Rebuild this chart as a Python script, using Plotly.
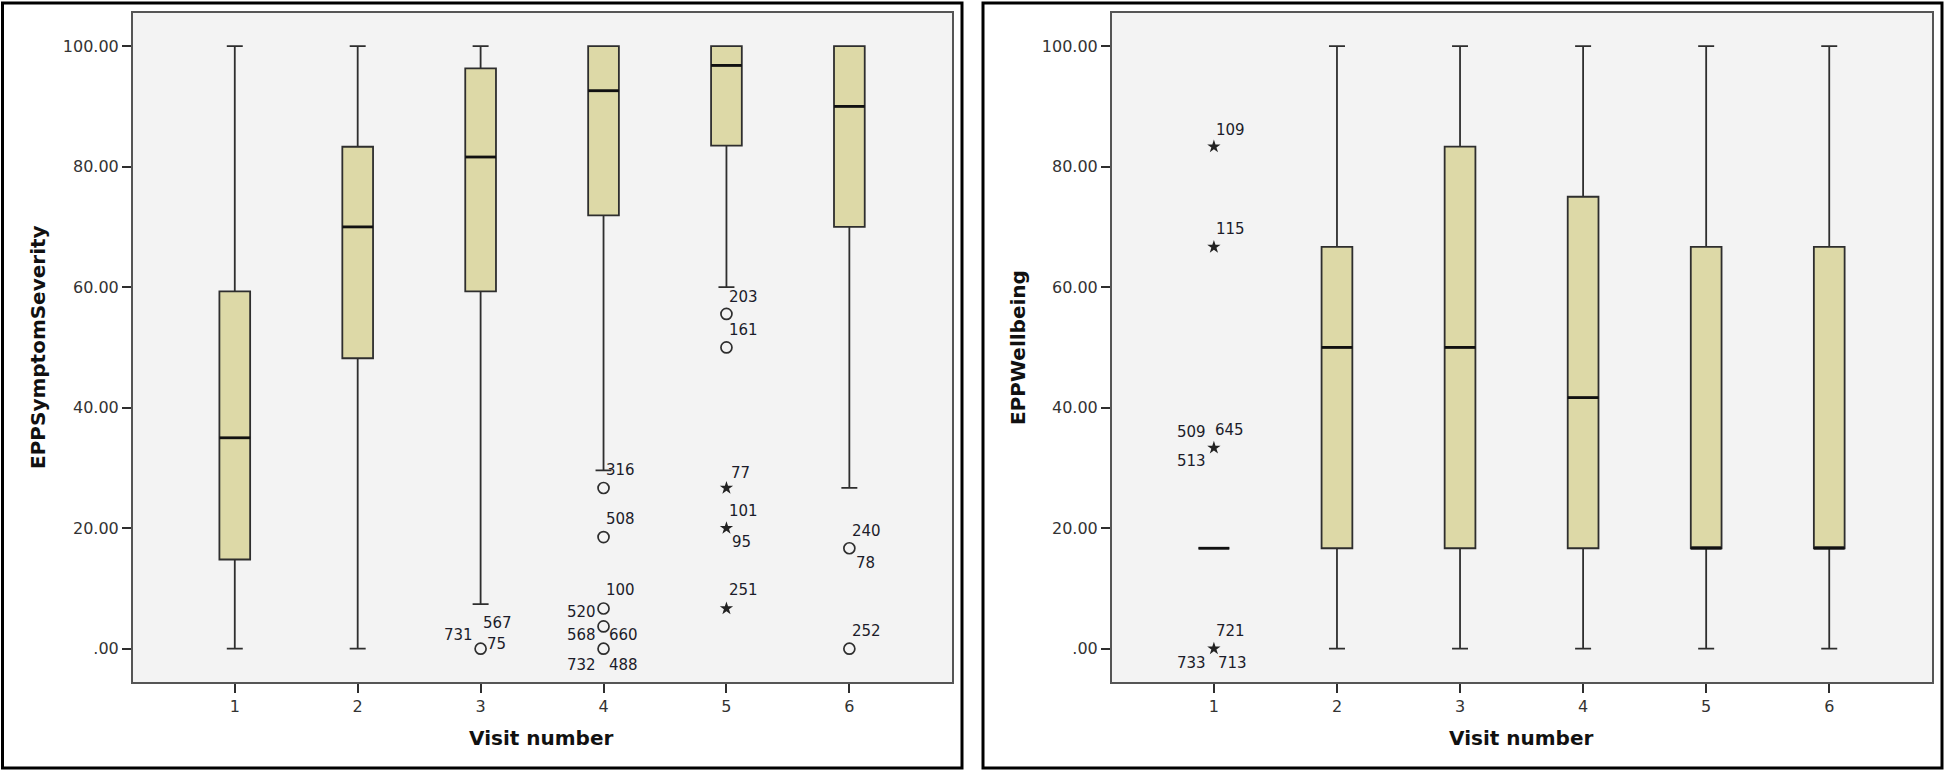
import plotly.graph_objects as go

# ---------------- data ----------------
visits = [1, 2, 3, 4, 5, 6]
tick_vals = [0, 20, 40, 60, 80, 100]
tick_text = [".00", "20.00", "40.00", "60.00", "80.00", "100.00"]

# EPPSymptomSeverity
sym_q1 = [14.8, 48.2, 59.3, 71.9, 83.5, 70.0]
sym_median = [35.0, 70.0, 81.6, 92.6, 96.8, 90.0]
sym_q3 = [59.3, 83.3, 96.3, 100.0, 100.0, 100.0]
sym_low = [0.0, 0.0, 7.4, 29.6, 60.0, 26.7]
sym_high = [100.0, 100.0, 100.0, 100.0, 100.0, 100.0]

sym_circle_x = [3, 4, 4, 4, 4, 4, 5, 5, 6, 6]
sym_circle_y = [0.0, 26.67, 18.52, 6.67, 3.70, 0.0, 55.56, 50.0, 16.67, 0.0]
sym_star_x = [5, 5, 5]
sym_star_y = [26.67, 20.0, 6.67]

sym_label_text = ["731", "567", "75", "316", "508", "100", "520", "568", "660", "732", "488",
                  "203", "161", "77", "101", "95", "251", "240", "78", "252"]
sym_label_x = [3, 3, 3, 4, 4, 4, 4, 4, 4, 4, 4, 5, 5, 5, 5, 5, 5, 6, 6, 6]
sym_label_y = [0.0, 0.0, 0.0, 26.67, 18.52, 6.67, 3.70, 0.0, 0.0, 0.0, 0.0,
               55.56, 50.0, 26.67, 20.0, 20.0, 6.67, 16.67, 16.67, 0.0]

# EPPWellbeing
wb_q1 = [16.67, 16.67, 16.67, 16.67, 16.67, 16.67]
wb_median = [16.67, 50.0, 50.0, 41.67, 16.67, 16.67]
wb_q3 = [16.67, 66.67, 83.33, 75.0, 66.67, 66.67]
wb_low = [16.67, 0.0, 0.0, 0.0, 0.0, 0.0]
wb_high = [16.67, 100.0, 100.0, 100.0, 100.0, 100.0]

wb_star_x = [1, 1, 1, 1]
wb_star_y = [83.33, 66.67, 33.33, 0.0]

wb_label_text = ["109", "115", "509", "645", "513", "721", "733", "713"]
wb_label_x = [1, 1, 1, 1, 1, 1, 1, 1]
wb_label_y = [83.33, 66.67, 33.33, 33.33, 33.33, 0.0, 0.0, 0.0]

# ---------------- style ----------------
W, H = 1946, 774
FONT = "DejaVu Sans"
BOX_W = 0.25
BOX_FILL = "#DDD9A7"
LINE_C = "#2e2e2e"

# label offsets in pixels (dx, dy up)
sym_label_off = [(-22, 14), (17, 26), (16, 5), (17, 18), (17, 18), (17, 18), (-22, 14),
                 (-22, 14), (20, 14), (-22, -16), (20, -16),
                 (17, 17), (17, 17), (14, 15), (17, 17), (15, -14), (17, 18),
                 (17, 17), (16, -15), (17, 18)]
wb_label_off = [(17, 17), (17, 18), (-22, 16), (16, 18), (-22, -13), (17, 18), (-22, -14), (19, -14)]

fig = go.Figure()


def add_panel(xa, ya, q1, med, q3, low, high, circ_x, circ_y, star_x, star_y):
    fig.add_trace(go.Box(
        x=visits, q1=q1, median=med, q3=q3, lowerfence=low, upperfence=high,
        width=BOX_W, whiskerwidth=0.52, boxpoints=False,
        fillcolor=BOX_FILL, line=dict(color=LINE_C, width=1.8),
        xaxis=xa, yaxis=ya, showlegend=False, hoverinfo="skip"))
    # thicker median lines
    mx, my = [], []
    for v, m in zip(visits, med):
        mx += [v - BOX_W / 2, v + BOX_W / 2, None]
        my += [m, m, None]
    fig.add_trace(go.Scatter(x=mx, y=my, mode="lines", line=dict(color="#111111", width=2.8),
                             xaxis=xa, yaxis=ya, showlegend=False, hoverinfo="skip"))
    if circ_x:
        fig.add_trace(go.Scatter(
            x=circ_x, y=circ_y, mode="markers",
            marker=dict(symbol="circle-open", size=11, color=LINE_C, line=dict(width=1.7)),
            xaxis=xa, yaxis=ya, showlegend=False, hoverinfo="skip"))
    if star_x:
        fig.add_trace(go.Scatter(
            x=star_x, y=star_y, mode="markers",
            marker=dict(symbol="star", size=10, color="#222222", line=dict(width=0)),
            xaxis=xa, yaxis=ya, showlegend=False, hoverinfo="skip"))


add_panel("x", "y", sym_q1, sym_median, sym_q3, sym_low, sym_high,
          sym_circle_x, sym_circle_y, sym_star_x, sym_star_y)
add_panel("x2", "y2", wb_q1, wb_median, wb_q3, wb_low, wb_high,
          [], [], wb_star_x, wb_star_y)

annotations = []
for t, x, y, (dx, dy) in zip(sym_label_text, sym_label_x, sym_label_y, sym_label_off):
    annotations.append(dict(x=x, y=y, xref="x", yref="y", text=t, showarrow=False,
                            xanchor="center", yanchor="middle",
                            xshift=dx, yshift=dy, font=dict(family=FONT, size=15, color="#1c1c2a")))
for t, x, y, (dx, dy) in zip(wb_label_text, wb_label_x, wb_label_y, wb_label_off):
    annotations.append(dict(x=x, y=y, xref="x2", yref="y2", text=t, showarrow=False,
                            xanchor="center", yanchor="middle",
                            xshift=dx, yshift=dy, font=dict(family=FONT, size=15, color="#1c1c2a")))

# axis titles
title_font = dict(family=FONT, size=20, color="#111111")
annotations += [
    dict(x=38 / W, y=1 - 347 / H, xref="paper", yref="paper", text="<b>EPPSymptomSeverity</b>",
         textangle=-90, showarrow=False, font=title_font, xanchor="center", yanchor="middle"),
    dict(x=1018 / W, y=1 - 347 / H, xref="paper", yref="paper", text="<b>EPPWellbeing</b>",
         textangle=-90, showarrow=False, font=title_font, xanchor="center", yanchor="middle"),
    dict(x=541 / W, y=1 - 738 / H, xref="paper", yref="paper", text="<b>Visit number</b>",
         showarrow=False, font=title_font, xanchor="center", yanchor="middle"),
    dict(x=1521 / W, y=1 - 738 / H, xref="paper", yref="paper", text="<b>Visit number</b>",
         showarrow=False, font=title_font, xanchor="center", yanchor="middle"),
]

x_common = dict(range=[0.172, 6.835], tickvals=visits, ticktext=[str(v) for v in visits],
                ticks="outside", ticklen=9, tickwidth=1.8, tickcolor=LINE_C,
                showline=True, linecolor="#555555", linewidth=2, mirror=True,
                showgrid=False, zeroline=False,
                tickfont=dict(family=FONT, size=16, color="#333333"))
y_common = dict(range=[-5.53, 105.5], tickvals=tick_vals, ticktext=tick_text,
                ticks="outside", ticklen=9, tickwidth=1.8, tickcolor=LINE_C,
                showline=True, linecolor="#555555", linewidth=2, mirror=True,
                showgrid=False, zeroline=False,
                tickfont=dict(family=FONT, size=16, color="#333333"))

ydom = [1 - 682 / H, 1 - 13 / H]
fig.update_layout(
    width=W, height=H, autosize=False,
    margin=dict(l=0, r=0, t=0, b=0),
    paper_bgcolor="white", plot_bgcolor="#F3F3F3",
    xaxis=dict(domain=[133 / W, 952 / W], anchor="y", **x_common),
    yaxis=dict(domain=ydom, anchor="x", **y_common),
    xaxis2=dict(domain=[1112 / W, 1932 / W], anchor="y2", **x_common),
    yaxis2=dict(domain=ydom, anchor="x2", **y_common),
    annotations=annotations,
    shapes=[
        dict(type="rect", xref="paper", yref="paper", x0=2.5 / W, x1=962 / W,
             y0=1 - 768 / H, y1=1 - 3 / H, line=dict(color="black", width=3)),
        dict(type="rect", xref="paper", yref="paper", x0=983 / W, x1=1942 / W,
             y0=1 - 768 / H, y1=1 - 3 / H, line=dict(color="black", width=3)),
    ],
)

fig.write_html("out.html", config={"displayModeBar": False},
               post_script="document.body.style.margin='0';document.body.style.overflow='hidden';")
